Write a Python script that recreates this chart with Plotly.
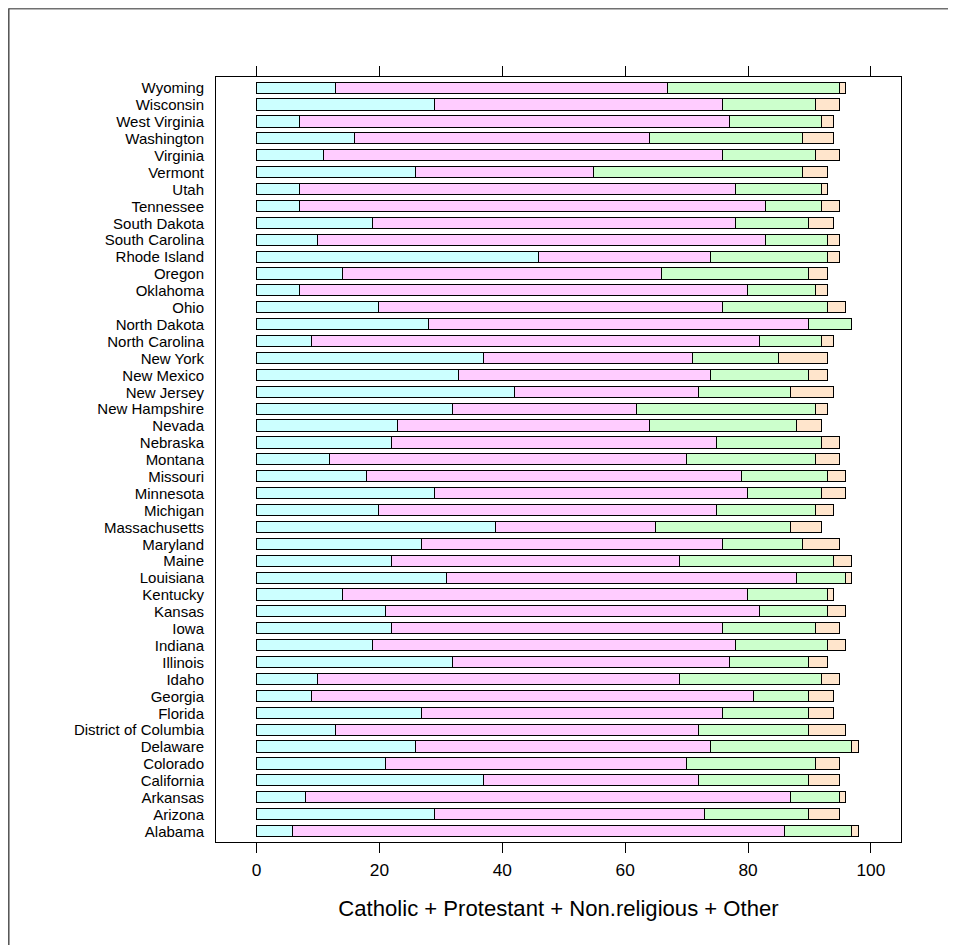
import plotly.graph_objects as go

states = ["Alabama", "Arizona", "Arkansas", "California", "Colorado", "Delaware",
          "District of Columbia", "Florida", "Georgia", "Idaho", "Illinois", "Indiana",
          "Iowa", "Kansas", "Kentucky", "Louisiana", "Maine", "Maryland", "Massachusetts",
          "Michigan", "Minnesota", "Missouri", "Montana", "Nebraska", "Nevada",
          "New Hampshire", "New Jersey", "New Mexico", "New York", "North Carolina",
          "North Dakota", "Ohio", "Oklahoma", "Oregon", "Rhode Island", "South Carolina",
          "South Dakota", "Tennessee", "Utah", "Vermont", "Virginia", "Washington",
          "West Virginia", "Wisconsin", "Wyoming"]

catholic = [6, 29, 8, 37, 21, 26, 13, 27, 9, 10, 32, 19, 22, 21, 14, 31, 22, 27, 39,
            20, 29, 18, 12, 22, 23, 32, 42, 33, 37, 9, 28, 20, 7, 14, 46, 10, 19, 7, 7,
            26, 11, 16, 7, 29, 13]
protestant = [80, 44, 79, 35, 49, 48, 59, 49, 72, 59, 45, 59, 54, 61, 66, 57, 47, 49, 26,
              55, 51, 61, 58, 53, 41, 30, 30, 41, 34, 73, 62, 56, 73, 52, 28, 73, 59, 76, 71,
              29, 65, 48, 70, 47, 54]
nonreligious = [11, 17, 8, 18, 21, 23, 18, 14, 9, 23, 13, 15, 15, 11, 13, 8, 25, 13, 22,
                16, 12, 14, 21, 17, 24, 29, 15, 16, 14, 10, 7, 17, 11, 24, 19, 10, 12, 9, 14,
                34, 15, 25, 15, 15, 28]
other = [1, 5, 1, 5, 4, 1, 6, 4, 4, 3, 3, 3, 4, 3, 1, 1, 3, 6, 5,
         3, 4, 3, 4, 3, 4, 2, 7, 3, 8, 2, 0, 3, 2, 3, 2, 2, 4, 3, 1,
         4, 4, 5, 2, 4, 1]

series_names = ["Catholic", "Protestant", "Non.religious", "Other"]
series_values = [catholic, protestant, nonreligious, other]
series_colors = ["#CCFFFF", "#FFCCFF", "#CCFFCC", "#FFE5CC"]

x_ticks = [0, 20, 40, 60, 80, 100]

fig = go.Figure()
for name, vals, col in zip(series_names, series_values, series_colors):
    fig.add_trace(go.Bar(
        y=states, x=vals, name=name, orientation="h",
        width=0.66,
        marker=dict(color=col, line=dict(color="black", width=1)),
        showlegend=False,
    ))

# figure is placed 8px in from the page corner by the browser's body margin
W, H = 948, 937
L, R, T, B = 208, 55, 69, 103
pw, ph = W - L - R, H - T - B

def px_x(p):
    return (p - L) / pw

def px_y(p):
    return (H - B - p) / ph

fig.update_layout(
    barmode="stack",
    width=W, height=H,
    margin=dict(l=L, r=R, t=T, b=B, autoexpand=False),
    paper_bgcolor="white", plot_bgcolor="white",
    font=dict(family="Liberation Sans, Arial, sans-serif", size=17.3, color="black"),
    bargap=0,
    xaxis=dict(
        range=[-6.6, 104.9], tickmode="array", tickvals=x_ticks,
        ticktext=[str(v) for v in x_ticks],
        showgrid=False, zeroline=False, showline=True, linecolor="black", linewidth=1,
        mirror="ticks", ticks="outside", ticklen=10, tickcolor="black", tickwidth=1,
        tickfont=dict(size=17.3), ticklabelstandoff=2,
        title=dict(text="Catholic + Protestant + Non.religious + Other",
                   font=dict(size=22.1), standoff=21),
        automargin=False,
    ),
    yaxis=dict(
        type="category", categoryorder="array", categoryarray=states,
        tickmode="array", tickvals=states, ticktext=states,
        range=[-0.62, 44.66],
        showgrid=False, zeroline=False, showline=True, linecolor="black", linewidth=1,
        mirror=True, ticks="outside", ticklen=8, tickcolor="rgba(0,0,0,0)",
        tickfont=dict(size=15),
        automargin=False,
    ),
    shapes=[
        dict(type="line", xref="paper", yref="paper",
             x0=px_x(0.5), x1=px_x(948), y0=px_y(0.8), y1=px_y(0.8),
             line=dict(color="#707070", width=1.5)),
        dict(type="line", xref="paper", yref="paper",
             x0=px_x(0.8), x1=px_x(0.8), y0=px_y(0.5), y1=px_y(937),
             line=dict(color="#505050", width=1.5)),
    ],
)

fig.write_html("out.html")
